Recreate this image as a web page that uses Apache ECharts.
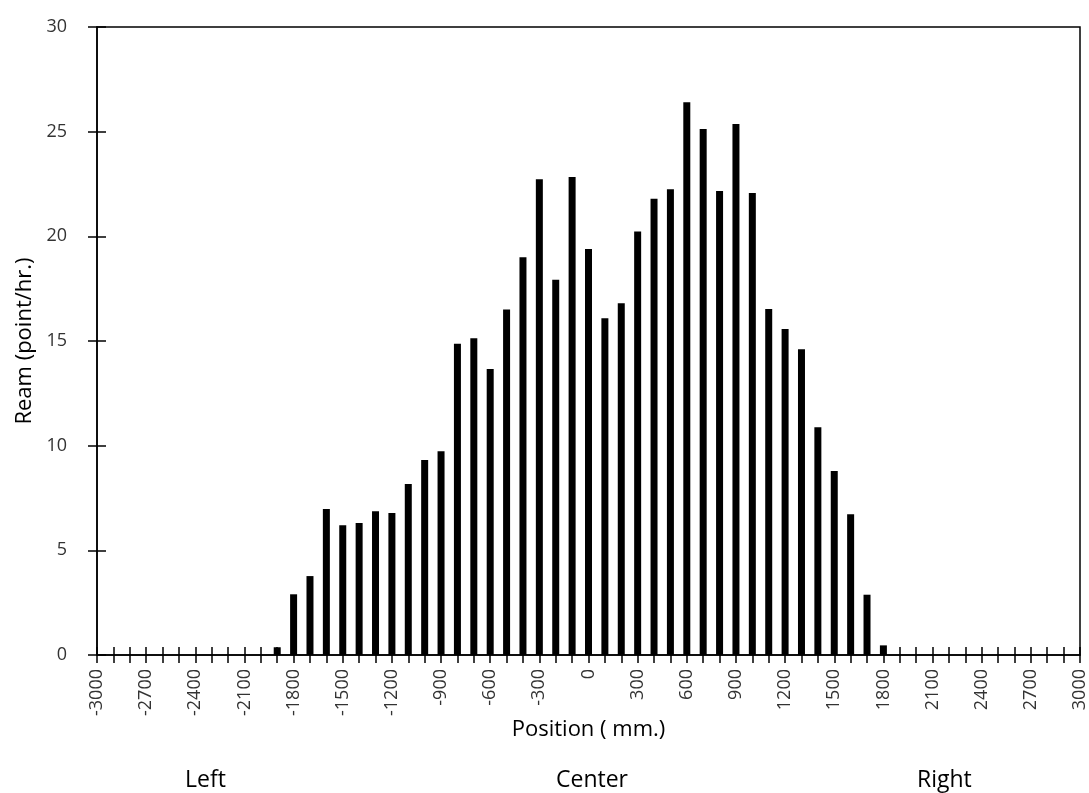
<!DOCTYPE html>
<html>
<head>
<meta charset="utf-8">
<script src="https://cdn.jsdelivr.net/npm/echarts@6/dist/echarts.min.js"></script>
<style>
    html, body { margin: 0; padding: 0; background: #fff; }
    #chart { width: 1089px; height: 793px; }
</style>
</head>
<body>
<div id="chart"></div>
<script>
    // positions from -3000 to 3000 mm, every 100
    let positions = [];
    for (let p = -3000; p <= 3000; p += 100) positions.push(String(p));

    // ream rate (point/hr.), one per position
    let ream = [
        0, 0, 0, 0, 0, 0, 0, 0, 0, 0,              // -3000 .. -2100
        0, 0.37, 2.9, 3.77, 6.98, 6.2, 6.31, 6.87, 6.78, 8.17,   // -2000 .. -1100
        9.32, 9.73, 14.87, 15.13, 13.66, 16.5, 19.0, 22.73, 17.92, 22.84, // -1000 .. -100
        19.4,                                       // 0
        16.09, 16.8, 20.23, 21.79, 22.25, 26.41, 25.13, 22.17, 25.37, 22.07, // 100 .. 1000
        16.53, 15.57, 14.6, 10.88, 8.79, 6.72, 2.88, 0.46, 0, 0,   // 1100 .. 2000
        0, 0, 0, 0, 0, 0, 0, 0, 0, 0              // 2100 .. 3000
    ];

    let sideLabels = ['Left', 'Center', 'Right'];

    let font = '"Open Sans", "Noto Sans", sans-serif';
    let black = '#000';

    let chart = echarts.init(document.getElementById('chart'));

    let opts = {
        backgroundColor: '#fff',
        animation: false,
        textStyle: { fontFamily: font, color: black },
        grid: {
            left: 97, right: 7, top: 27, bottom: 138,
            show: true, borderColor: black, borderWidth: 1.5
        },
        xAxis: [
            {
                type: 'category',
                data: positions,
                boundaryGap: false,
                name: 'Position ( mm.)',
                nameLocation: 'middle',
                nameGap: 64,
                nameMoveOverlap: false,
                nameTextStyle: { fontSize: 22, color: black, fontFamily: font },
                axisLine: { lineStyle: { color: black, width: 1.5 } },
                axisTick: { show: true, interval: 0, length: 8, lineStyle: { color: black, width: 1.5 } },
                axisLabel: { interval: 2, rotate: 90, fontSize: 18, color: '#333', margin: 14, fontFamily: font },
                splitLine: { show: false }
            },
            {
                // inner half of the crossing ticks
                type: 'category',
                data: positions,
                boundaryGap: false,
                position: 'bottom',
                axisLine: { show: false },
                axisTick: { show: true, inside: true, interval: 0, length: 8, lineStyle: { color: black, width: 1.5 } },
                axisLabel: { show: false },
                splitLine: { show: false }
            }
        ],
        yAxis: [
            {
                type: 'value',
                min: 0, max: 30, interval: 5,
                name: 'Ream (point/hr.)',
                nameLocation: 'middle',
                nameGap: 61,
                nameMoveOverlap: false,
                nameTextStyle: { fontSize: 22, color: black, fontFamily: font },
                axisLine: { show: true, lineStyle: { color: black, width: 1.5 } },
                axisTick: { show: true, length: 9, lineStyle: { color: black, width: 1.5 } },
                axisLabel: { fontSize: 18, color: '#333', margin: 30, fontFamily: font },
                splitLine: { show: false }
            },
            {
                type: 'value',
                min: 0, max: 30, interval: 5,
                position: 'left',
                axisLine: { show: false },
                axisTick: { show: true, inside: true, length: 9, lineStyle: { color: black, width: 1.5 } },
                axisLabel: { show: false },
                splitLine: { show: false }
            }
        ],
        series: [
            {
                name: 'Ream',
                type: 'bar',
                data: ream,
                barWidth: 7,
                itemStyle: { color: black }
            }
        ],
        graphic: [
            { type: 'text', left: 185, top: 769, style: { text: sideLabels[0], font: '23px ' + font, fill: black } },
            { type: 'text', left: 556, top: 769, style: { text: sideLabels[1], font: '23px ' + font, fill: black } },
            { type: 'text', left: 917, top: 769, style: { text: sideLabels[2], font: '23px ' + font, fill: black } }
        ]
    };

    chart.setOption(opts);
</script>
</body>
</html>
